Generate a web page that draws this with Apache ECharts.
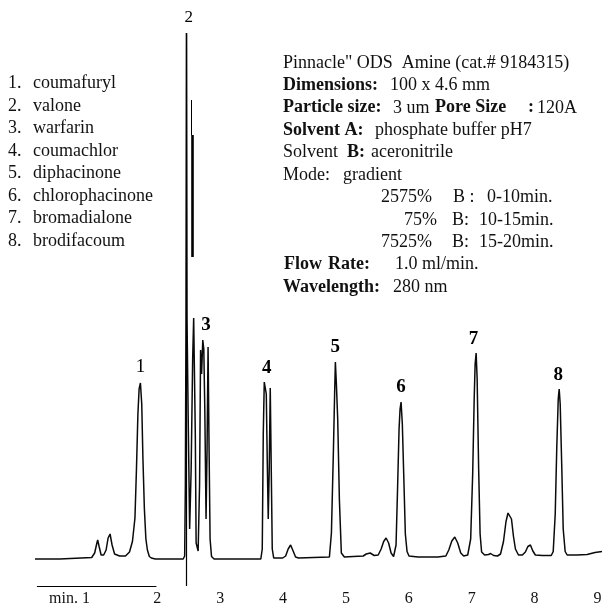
<!DOCTYPE html>
<html><head><meta charset="utf-8">
<script src="https://cdn.jsdelivr.net/npm/echarts@6/dist/echarts.min.js"></script>
<style>html,body{margin:0;padding:0;background:#fff}#c{width:605px;height:610px}</style>
</head><body><div id="c"></div>
<script>
// ---- data (time in minutes, detector signal in arbitrary units) ----
const timeMin = [0.054,0.449,0.956,1.003,1.035,1.051,1.074,1.106,1.146,1.185,1.217,1.248,1.280,1.320,1.399,1.494,1.557,1.604,1.644,1.668,1.691,1.710,1.731,1.752,1.771,1.794,1.818,1.842,1.873,1.905,1.968,2.190,2.411,2.435,2.446,2.456,2.464,2.472,2.491,2.514,2.538,2.562,2.578,2.590,2.604,2.617,2.649,2.672,2.688,2.704,2.723,2.739,2.755,2.775,2.791,2.807,2.823,2.839,2.862,2.902,3.297,3.646,3.669,3.685,3.701,3.717,3.733,3.748,3.764,3.780,3.796,3.812,3.828,3.851,3.994,4.041,4.081,4.120,4.160,4.199,4.247,4.484,4.737,4.769,4.801,4.820,4.832,4.848,4.869,4.896,4.927,4.975,5.117,5.275,5.323,5.386,5.449,5.513,5.560,5.600,5.639,5.679,5.718,5.758,5.797,5.821,5.845,5.861,5.877,5.897,5.919,5.945,5.972,6.003,6.146,6.462,6.589,6.636,6.684,6.731,6.778,6.826,6.873,6.937,6.984,7.016,7.040,7.055,7.071,7.087,7.111,7.134,7.158,7.206,7.269,7.301,7.348,7.411,7.459,7.506,7.546,7.578,7.601,7.633,7.665,7.696,7.744,7.807,7.854,7.894,7.934,7.973,8.013,8.123,8.266,8.297,8.329,8.353,8.377,8.392,8.408,8.432,8.456,8.487,8.519,8.677,8.835,8.962,9.073];
const signal = [0,0,0.3,1.2,3.0,3.8,2.5,0.8,0.8,1.8,4.2,5.0,2.8,1.0,0.6,0.6,1.4,3.5,8.2,18,29,34,35.2,31,20,10,4,1.8,0.5,0.2,0,0,0,0.6,15,48.2,105.2,48.2,28,6,18,40,48.2,48,25,3.2,1.6,15,41.8,37,43.8,42,30,8,22,42.4,22,4,0.5,0,0,0,2,25,35.4,35.4,33,20,8,18,34.2,18,2,0.2,0.2,0.6,2,2.8,1.6,0.4,0.2,0.3,0.4,5.2,21.8,33,39.4,35,28,11.8,1.2,0.4,0.5,0.6,1.0,1.2,0.7,0.8,2,3.5,4.2,3.2,1.2,0.5,2.8,14,26,30,31.4,27,17,5,1.5,0.6,0.4,0.4,0.6,1.8,3.6,4.4,3.2,1.2,0.6,0.8,4,17,32,39,41.2,36,18,5,1.4,0.8,0.9,1.1,0.7,0.6,1,3.5,7.5,9.2,9.6,8,4.5,2,0.8,0.8,1.4,2.5,2.8,1.6,0.8,0.7,0.7,1.5,9,22,32,34,31,19,6,1.5,0.8,0.8,0.9,1.3,1.5];

const peakNumbers = ['1','2','3','4','5','6','7','8'];
const peakLabelTimes = [1.731,2.500,2.775,3.740,4.830,5.877,7.030,8.377];
const peakLabelLevels = [38.4,108.2,46.8,38.2,42.4,34.4,44,36.8];

const compounds = ['coumafuryl','valone','warfarin','coumachlor','diphacinone','chlorophacinone','bromadialone','brodifacoum'];
const xTickValues = [1,2,3,4,5,6,7,8,9];

const injectionMarker = {time: 2.464, from: -5.4, to: 105.2};
const traceFragment = {time: 2.548, from: 60.4, to: 84.8};
const traceFragmentThin = {time: 2.540, from: 84.8, to: 91.8};
const timeScaleBar = {from: 0.085, to: 1.985, level: -5.4};

const methodLines = [
  [['Pinnacle" ODS  Amine (cat.# 9184315)', false]],
  [['Dimensions:', true], ['100 x 4.6 mm', false]],
  [['Particle size:', true], ['3 um', false], ['Pore Size', true], [':', true], ['120A', false]],
  [['Solvent A:', true], ['phosphate buffer pH7', false]],
  [['Solvent', false], ['B:', true], ['aceronitrile', false]],
  [['Mode:', false], ['gradient', false]],
  [['2575%', false], ['B :', false], ['0-10min.', false]],
  [['75%', false], ['B:', false], ['10-15min.', false]],
  [['7525%', false], ['B:', false], ['15-20min.', false]],
  [['Flow', true], ['Rate:', true], ['1.0 ml/min.', false]],
  [['Wavelength:', true], ['280 nm', false]]
];

// ---- layout ----
const SERIF = '"Liberation Serif", "Times New Roman", serif';
const INK = '#000';
const methodX = [[283],[283,390],[283,393,435,528,537],[283,375],[283,347,371],[283,343],[381,453,487],[404,452,479],[381,452,479],[284,328,395],[283,393]];
const methodY0 = 63, methodDy = 22.4;
const listY0 = 83.3, listDy = 22.5;

const graphics = [];
methodLines.forEach((segs, i) => {
  segs.forEach((s, j) => {
    graphics.push({type:'text', x: methodX[i][j], y: methodY0 + i*methodDy,
      style:{text: s[0], font: (s[1] ? 'bold ' : '') + '18px ' + SERIF, fill: '#111', verticalAlign:'middle', align:'left'}});
  });
});
compounds.forEach((c, i) => {
  graphics.push({type:'text', x: 8, y: listY0 + i*listDy,
    style:{text: (i+1) + '.', font: '18px ' + SERIF, fill: '#111', verticalAlign:'middle'}});
  graphics.push({type:'text', x: 33, y: listY0 + i*listDy,
    style:{text: c, font: '18px ' + SERIF, fill: '#111', verticalAlign:'middle'}});
});

const chart = echarts.init(document.getElementById('c'), null, {renderer:'canvas'});
chart.setOption({
  animation: false,
  backgroundColor: '#fff',
  grid: {left: 31.6, right: 0, top: 9, bottom: 20, containLabel: false},
  xAxis: {
    type: 'value', min: 0, max: 9.073, interval: 1,
    axisLine: {show: false}, axisTick: {show: false}, splitLine: {show: false},
    axisLabel: {
      margin: 1, color: '#111', fontFamily: SERIF, fontSize: 16,
      showMinLabel: false, showMaxLabel: true,
      formatter: v => xTickValues.includes(v) ? (v === 1 ? '{m|min. 1}' : String(v)) : '',
      rich: {m: {fontFamily: SERIF, fontSize: 16, color: '#111', padding: [0, 50, 0, 0]}}
    }
  },
  yAxis: {type: 'value', min: -6.2, max: 110, show: false},
  graphic: graphics,
  series: [
    {
      type: 'line', data: timeMin.map((t, i) => [t, signal[i]]),
      showSymbol: false, smooth: false, clip: true,
      lineStyle: {color: '#0a0a0a', width: 1.5},
      markLine: {
        silent: true, symbol: 'none', animation: false,
        label: {show: false},
        data: [
          [{coord: [injectionMarker.time, injectionMarker.from], lineStyle:{color: INK, width: 1.2, type:'solid'}},
           {coord: [injectionMarker.time, injectionMarker.to]}],
          [{coord: [traceFragment.time, traceFragment.from], lineStyle:{color: INK, width: 2.6, type:'solid'}},
           {coord: [traceFragment.time, traceFragment.to]}],
          [{coord: [traceFragmentThin.time, traceFragmentThin.from], lineStyle:{color: INK, width: 1, type:'solid'}},
           {coord: [traceFragmentThin.time, traceFragmentThin.to]}],
          [{coord: [timeScaleBar.from, timeScaleBar.level], lineStyle:{color: INK, width: 1.2, type:'solid'}},
           {coord: [timeScaleBar.to, timeScaleBar.level]}]
        ]
      }
    },
    {
      type: 'scatter', symbolSize: 1, itemStyle: {color: 'rgba(0,0,0,0)'},
      data: peakNumbers.map((n, i) => ({
        value: [peakLabelTimes[i], peakLabelLevels[i]], name: n,
        label: {fontSize: i === 1 ? 17 : 19, fontWeight: i < 2 ? 'normal' : 'bold', color: INK}
      })),
      label: {
        show: true, position: 'inside', color: INK, fontFamily: SERIF,
        textBorderWidth: 0, opacity: 1,
        formatter: p => p.name
      },
      emphasis: {disabled: true}
    }
  ]
});
</script></body></html>
